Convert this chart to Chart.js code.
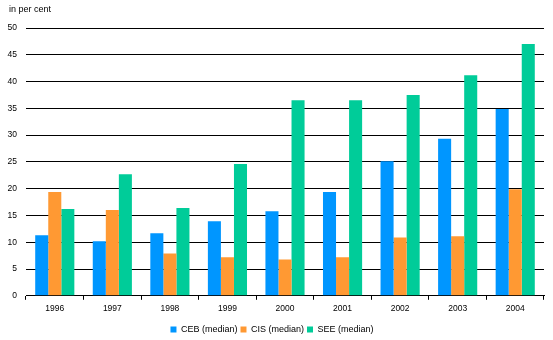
<!DOCTYPE html>
<html lang="en">
<head>
    <meta charset="UTF-8">
    <title>Median by region</title>
    <script src="https://cdn.jsdelivr.net/npm/chart.js"></script>
    <style>
        body { margin: 0; background: #fff; }
    </style>
</head>
<body>
<canvas id="medianChart" width="553" height="340"></canvas>
<script>
    const years = ['1996', '1997', '1998', '1999', '2000', '2001', '2002', '2003', '2004'];
    const ceb = [11.3, 10.2, 11.7, 13.9, 15.8, 19.4, 25.1, 29.3, 34.9];
    const cis = [19.4, 16.0, 7.9, 7.2, 6.8, 7.2, 10.9, 11.1, 19.9];
    const see = [16.2, 22.7, 16.4, 24.6, 36.5, 36.5, 37.5, 41.2, 47.0];
    const yTicks = [0, 5, 10, 15, 20, 25, 30, 35, 40, 45, 50];

    const font = 'Arial, "Liberation Sans", sans-serif';

    // "in per cent" note above the value axis
    const unitLabel = {
        id: 'unitLabel',
        afterDraw(chart) {
            const c = chart.ctx;
            c.save();
            c.font = '9px ' + font;
            c.fillStyle = '#000';
            c.textBaseline = 'middle';
            c.textAlign = 'left';
            c.fillText('in per cent', 9, 10);
            c.restore();
        }
    };

    const ctx = document.getElementById('medianChart').getContext('2d');
    const chart = new Chart(ctx, {
        type: 'bar',
        data: {
            labels: years,
            datasets: [
                { label: 'CEB (median)', data: ceb, backgroundColor: '#0096FF' },
                { label: 'CIS (median)', data: cis, backgroundColor: '#FF9933' },
                { label: 'SEE (median)', data: see, backgroundColor: '#00CC99' }
            ]
        },
        options: {
            responsive: false,
            animation: false,
            layout: { padding: { top: 28, right: 9, left: 0, bottom: -4 } },
            datasets: {
                bar: { categoryPercentage: 0.68, barPercentage: 1 }
            },
            plugins: {
                tooltip: { enabled: false },
                legend: {
                    position: 'bottom',
                    labels: {
                        boxWidth: 6,
                        boxHeight: 6,
                        padding: 3,
                        color: '#000',
                        font: { family: font, size: 9 }
                    }
                }
            },
            scales: {
                x: {
                    afterFit(scale) {
                        scale.height += 4;
                    },
                    grid: {
                        offset: true,
                        drawOnChartArea: false,
                        drawTicks: true,
                        tickLength: 4,
                        color: '#000'
                    },
                    border: { display: true, color: '#000' },
                    ticks: {
                        color: '#000',
                        padding: 4,
                        maxRotation: 0,
                        font: { family: font, size: 8.5 }
                    }
                },
                y: {
                    min: 0,
                    max: 50,
                    afterBuildTicks(scale) {
                        scale.ticks = yTicks.map(v => ({ value: v }));
                    },
                    afterFit(scale) {
                        scale.width = 26;
                    },
                    grid: { color: '#000', drawTicks: false },
                    border: { display: false },
                    ticks: {
                        color: '#000',
                        padding: 9,
                        font: { family: font, size: 8.5 }
                    }
                }
            }
        },
        plugins: [unitLabel]
    });
</script>
</body>
</html>
